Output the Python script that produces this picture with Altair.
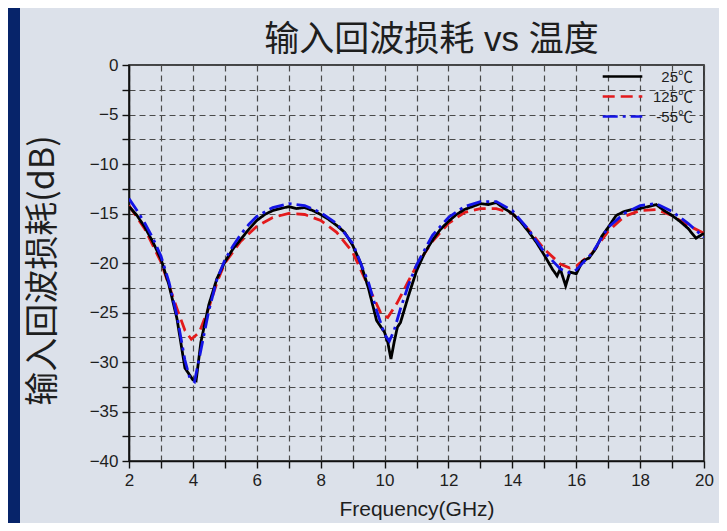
import altair as alt
import pandas as pd

# ---- data ----
series = ["25℃", "125℃", "-55℃"]
colors = ["#000000", "#e31a1c", "#1414e6"]
dashes = [[1, 0], [12, 6], [15, 5, 3, 5]]

freq_25 = [2.0, 2.25, 2.5, 2.75, 3.0, 3.25, 3.5, 3.75, 4.0, 4.1, 4.25, 4.5, 4.75, 5.0,
           5.25, 5.5, 5.75, 6.0, 6.25, 6.5, 6.75, 7.0, 7.25, 7.5, 7.75, 8.0, 8.25, 8.5,
           8.75, 9.0, 9.25, 9.5, 9.75, 10.0, 10.1, 10.2, 10.3, 10.4, 10.5, 10.75, 11.0,
           11.25, 11.5, 11.75, 12.0, 12.25, 12.5, 12.75, 13.0, 13.25, 13.5, 13.75, 14.0,
           14.25, 14.5, 14.75, 15.0, 15.25, 15.4, 15.5, 15.67, 15.8, 16.0, 16.2, 16.4,
           16.6, 16.8, 17.0, 17.25, 17.5, 17.75, 18.0, 18.25, 18.5, 18.75, 19.0, 19.25,
           19.5, 19.75, 20.0]
loss_25 = [-14.3, -15.2, -16.4, -17.9, -19.6, -22.2, -25.6, -30.6, -31.8, -31.9, -28.0,
           -24.2, -21.6, -19.9, -18.6, -17.6, -16.6, -15.7, -15.1, -14.7, -14.5, -14.3,
           -14.5, -14.4, -14.7, -15.1, -15.6, -16.2, -16.9, -18.2, -20.0, -22.6, -25.8,
           -27.0, -28.0, -29.7, -28.0, -26.5, -26.0, -23.3, -20.8, -19.0, -17.7, -16.6,
           -15.8, -15.1, -14.6, -14.3, -14.0, -14.1, -13.9, -14.5, -15.0, -15.8, -16.8,
           -17.9, -19.2, -20.6, -21.3, -20.6, -22.3, -20.9, -21.1, -19.8, -19.5, -18.6,
           -17.3, -16.4, -15.2, -14.8, -14.6, -14.5, -14.3, -14.1, -14.7, -15.2, -15.8,
           -16.5, -17.5, -17.0]

freq_125 = [2.0, 2.5, 3.0, 3.5, 3.75, 3.95, 4.2, 4.5, 4.75, 5.0, 5.5, 6.0, 6.5, 7.0, 7.5,
            8.0, 8.5, 9.0, 9.5, 9.9, 10.1, 10.4, 10.75, 11.0, 11.5, 12.0, 12.5, 13.0, 13.5,
            14.0, 14.5, 15.0, 15.5, 15.8, 16.0, 16.5, 17.0, 17.5, 18.0, 18.5, 19.0, 19.5,
            20.0]
loss_125 = [-14.2, -16.6, -19.9, -24.6, -26.8, -27.7, -27.0, -24.5, -22.0, -20.0, -17.8,
            -16.3, -15.4, -15.0, -15.1, -15.7, -16.9, -18.9, -22.4, -25.2, -25.5, -24.0,
            -21.8, -20.3, -17.8, -16.0, -14.9, -14.5, -14.5, -15.0, -16.6, -18.6, -20.1,
            -20.5, -20.3, -19.0, -16.8, -15.3, -14.7, -14.6, -15.2, -16.2, -17.0]

freq_m55 = [2.0, 2.25, 2.5, 2.75, 3.0, 3.25, 3.5, 3.75, 3.9, 4.05, 4.25, 4.5, 4.75, 5.0,
            5.25, 5.5, 5.75, 6.0, 6.5, 7.0, 7.5, 8.0, 8.5, 9.0, 9.5, 9.75, 10.0, 10.15,
            10.3, 10.5, 10.75, 11.0, 11.5, 12.0, 12.5, 13.0, 13.5, 14.0, 14.5, 15.0, 15.5,
            15.8, 16.0, 16.5, 17.0, 17.5, 18.0, 18.5, 19.0, 19.5, 20.0]
loss_m55 = [-13.5, -14.7, -16.0, -17.5, -19.3, -21.9, -25.3, -29.8, -31.6, -32.0, -28.8,
            -24.8, -21.7, -19.7, -18.3, -17.1, -16.1, -15.3, -14.4, -14.0, -14.2, -14.9,
            -16.0, -18.0, -22.0, -24.8, -27.2, -27.9, -26.8, -24.6, -22.2, -20.2, -17.2,
            -15.4, -14.3, -13.8, -13.8, -14.7, -16.6, -18.9, -20.6, -21.0, -20.7, -19.0,
            -16.4, -15.0, -14.2, -14.0, -14.8, -16.0, -17.4]

x_ticks = list(range(2, 21))
y_ticks = [-40, -37.5, -35, -32.5, -30, -27.5, -25, -22.5, -20, -17.5, -15, -12.5,
           -10, -7.5, -5, -2.5, 0]

rows = []
for name, fs, ls in [("125℃", freq_125, loss_125), ("25℃", freq_25, loss_25),
                     ("-55℃", freq_m55, loss_m55)]:
    for f, l in zip(fs, ls):
        rows.append({"f": f, "loss": l, "temp": name})
df = pd.DataFrame(rows)

NAVY = "#07246a"
PANEL = "#dce1ea"
LATIN = "Liberation Sans, Arial, Noto Sans CJK SC"
CJK = "Noto Sans CJK SC"
W, H = 575, 396

# decorative navy slide border on the left
strip = alt.Chart(alt.Data(values=[{}])).mark_rect(color=NAVY).encode(
    x=alt.value(-125), x2=alt.value(-109), y=alt.value(-57), y2=alt.value(H + 62)
)

lines = alt.Chart(df).mark_line(strokeWidth=2.8, clip=True).encode(
    x=alt.X("f:Q", scale=alt.Scale(domain=[2, 20], nice=False, zero=False),
            axis=alt.Axis(values=x_ticks, format="d", labelFlush=False,
                          labelExpr="datum.value % 2 == 0 ? datum.label : ''",
                          title="Frequency(GHz)", titleY=48, titleBaseline="middle")),
    y=alt.Y("loss:Q", scale=alt.Scale(domain=[-40, 0], nice=False),
            axis=alt.Axis(values=y_ticks, format="d", labelFlush=False,
                          labelExpr="datum.value % 5 == 0 ? datum.label : ''",
                          title="输入回波损耗(dB)", titleX=-86, titleY=205,
                          titleBaseline="middle", titleFont=CJK, titleFontSize=34)),
    color=alt.Color("temp:N", scale=alt.Scale(domain=series, range=colors),
                    legend=alt.Legend(title=None)),
    strokeDash=alt.StrokeDash("temp:N", scale=alt.Scale(domain=series, range=dashes),
                              legend=alt.Legend(title=None)),
)

chart = alt.layer(strip, lines).properties(
    width=W, height=H,
    autosize=alt.AutoSizeParams(type="none"),
    padding={"left": 121, "top": 57, "right": 15, "bottom": 62},
    title=alt.TitleParams("输入回波损耗 vs 温度", frame="group", anchor="middle",
                          font=LATIN, fontSize=35, fontWeight="normal", color="#1e1e1e",
                          dx=15, dy=50, offset=0),
).configure(background=PANEL).configure_view(
    stroke="#111111", strokeWidth=1.6, fill=None
).configure_axis(
    grid=True, gridColor="#4a4a4a", gridDash=[6, 4], gridWidth=1.2, gridOpacity=1,
    domainColor="#111111", domainWidth=1.6, tickColor="#111111", tickWidth=1.4,
    tickSize=7, labelFont=LATIN, labelFontSize=17, labelColor="#1e1e1e",
    labelPadding=4, titleFont=LATIN, titleFontSize=21, titleFontWeight="normal",
    titleColor="#1e1e1e"
).configure_legend(
    orient="none", legendX=483, legendY=1, padding=0, offset=0,
    symbolType="M-2.2,0H2.2", symbolSize=324, symbolStrokeWidth=2.6,
    labelFont=LATIN, labelFontSize=15, labelColor="#1e1e1e", labelAlign="right",
    labelOffset=60, rowPadding=1
)

chart.save("out.html", embed_options={"renderer": "svg", "actions": False})
